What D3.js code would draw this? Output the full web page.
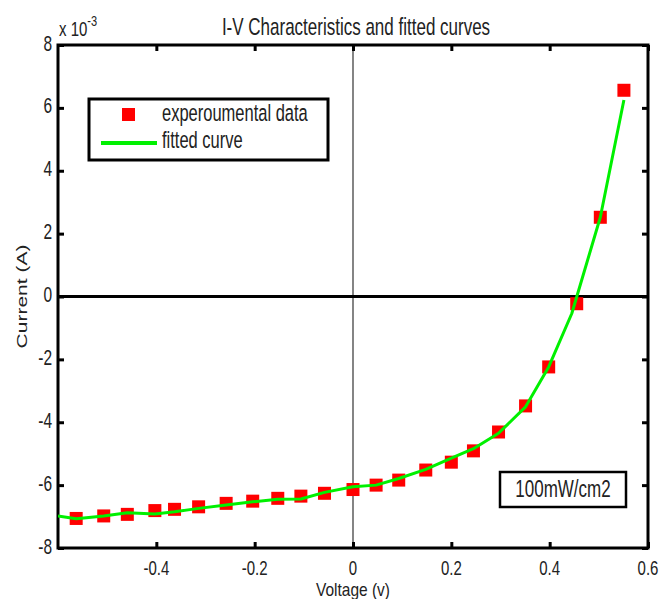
<!DOCTYPE html>
<html>
<head>
<meta charset="utf-8">
<script src="https://cdn.jsdelivr.net/npm/d3@7"></script>
<style>
  html, body { margin: 0; padding: 0; background: #fff; }
  svg text { font-family: "Liberation Sans", Arial, sans-serif; fill: #222; }
</style>
</head>
<body>
<div id="chart"></div>
<script>
// measured I-V points (current in units of 1e-3 A)
const voltage = [-0.563, -0.507, -0.459, -0.403, -0.363, -0.314, -0.258, -0.204, -0.153, -0.106,
  -0.058, 0.0, 0.047, 0.093, 0.148, 0.200, 0.245, 0.296, 0.351, 0.398, 0.455, 0.503, 0.551];
const current = [-7.06, -6.98, -6.93, -6.81, -6.77, -6.69, -6.58, -6.51, -6.42, -6.35,
  -6.26, -6.14, -6.00, -5.84, -5.52, -5.27, -4.91, -4.31, -3.48, -2.24, -0.23, 2.52, 6.56];

// fitted curve, sampled at the same voltages (plus left edge)
const fitV = [-0.6, -0.563, -0.507, -0.459, -0.403, -0.363, -0.314, -0.258, -0.204, -0.153, -0.106,
  -0.058, 0.0, 0.047, 0.093, 0.148, 0.200, 0.245, 0.296, 0.351, 0.398, 0.445, 0.503, 0.551];
const fitI = [-6.98, -7.07, -6.98, -6.88, -6.92, -6.85, -6.74, -6.63, -6.53, -6.45, -6.44,
  -6.23, -6.05, -6.00, -5.79, -5.50, -5.14, -4.84, -4.35, -3.51, -2.24, -0.54, 2.52, 6.25];

const xTicks = [-0.4, -0.2, 0, 0.2, 0.4, 0.6];
const yTicks = [-8, -6, -4, -2, 0, 2, 4, 6, 8];

const W = 659, H = 599;
const m = { top: 45, right: 11, bottom: 51, left: 58 };
const w = W - m.left - m.right, h = H - m.top - m.bottom;
const K = 1.4; // the source figure is stretched vertically, text too

const svg = d3.select("#chart").append("svg").attr("width", W).attr("height", H);
const g = svg.append("g").attr("transform", `translate(${m.left},${m.top})`);

const x = d3.scaleLinear().domain([-0.6, 0.6]).range([0, w]);
const y = d3.scaleLinear().domain([-8, 8]).range([h, 0]);

// horizontal text, stretched like the source
function label(parent, tx, ty, str, size, anchor, k) {
  return parent.append("text")
    .attr("transform", `translate(${tx},${ty}) scale(1,${k || K})`)
    .attr("text-anchor", anchor || "start").style("font-size", size + "px").text(str);
}

svg.append("clipPath").attr("id", "clip").append("rect").attr("width", w).attr("height", h);

// zero lines
g.append("line").attr("x1", x(0)).attr("x2", x(0)).attr("y1", 0).attr("y2", h)
  .attr("stroke", "#666").attr("stroke-width", 1.6);
g.append("line").attr("x1", 0).attr("x2", w).attr("y1", y(0)).attr("y2", y(0))
  .attr("stroke", "#000").attr("stroke-width", 3);

// axes (inward ticks, mirrored); labels added below
const axB = g.append("g").attr("transform", `translate(0,${h})`)
  .call(d3.axisBottom(x).tickValues(xTicks).tickSizeInner(-6).tickSizeOuter(0).tickFormat(""));
const axT = g.append("g")
  .call(d3.axisTop(x).tickValues(xTicks).tickSizeInner(-6).tickSizeOuter(0).tickFormat(""));
const axL = g.append("g")
  .call(d3.axisLeft(y).tickValues(yTicks).tickSizeInner(-6).tickSizeOuter(0).tickFormat(""));
const axR = g.append("g").attr("transform", `translate(${w},0)`)
  .call(d3.axisRight(y).tickValues(yTicks).tickSizeInner(-6).tickSizeOuter(0).tickFormat(""));
[axB, axT, axL, axR].forEach((a) => {
  a.select(".domain").remove();
  a.selectAll(".tick line").attr("stroke", "#000").attr("stroke-width", 3);
});

const fmtX = (d) => d === 0 ? "0" : d3.format(".1f")(d).replace("\u2212", "-");
xTicks.forEach((d) => label(g, x(d), h + 27, fmtX(d), 15, "middle"));
yTicks.forEach((d) => label(g, -6, y(d) + 5.5, String(d), 15.5, "end"));

// frame
g.append("rect").attr("width", w).attr("height", h).attr("fill", "none")
  .attr("stroke", "#000").attr("stroke-width", 3);

// data markers
const pts = voltage.map((v, i) => ({ v, c: current[i] }));
g.append("g").attr("clip-path", "url(#clip)").selectAll("rect.pt").data(pts).join("rect").attr("class", "pt")
  .attr("x", (d) => x(d.v) - 6.5).attr("y", (d) => y(d.c) - 6.5)
  .attr("width", 13).attr("height", 13).attr("fill", "#ff0000");

// fitted curve
const fit = fitV.map((v, i) => ({ v, c: fitI[i] }));
g.append("path").datum(fit).attr("clip-path", "url(#clip)").attr("fill", "none")
  .attr("stroke", "#00f000").attr("stroke-width", 3).attr("stroke-linejoin", "round")
  .attr("d", d3.line().x((d) => x(d.v)).y((d) => y(d.c)));

// title, exponent, axis labels
label(svg, 356, 35, "I-V Characteristics and fitted curves", 17, "middle");
const ex = label(svg, 59, 36, "", 15);
ex.append("tspan").text("x 10");
ex.append("tspan").attr("dy", -7).style("font-size", "11px").text("-3");
label(svg, m.left + x(0), 596, "Voltage (v)", 15.5, "middle", 1.2);
svg.append("text").attr("transform", `translate(27,${m.top + y(0)}) rotate(-90) scale(${K},1)`)
  .attr("text-anchor", "middle").style("font-size", "15px").text("Current (A)");

// legend
const lg = svg.append("g").attr("transform", "translate(89,99)");
lg.append("rect").attr("width", 239).attr("height", 61).attr("fill", "#fff")
  .attr("stroke", "#000").attr("stroke-width", 3);
lg.append("rect").attr("x", 33).attr("y", 9).attr("width", 13).attr("height", 13).attr("fill", "#ff0000");
label(lg, 73, 22, "experoumental data", 16.5);
lg.append("line").attr("x1", 12).attr("x2", 68).attr("y1", 44).attr("y2", 44)
  .attr("stroke", "#00f000").attr("stroke-width", 4);
label(lg, 73, 49, "fitted curve", 16.5);

// irradiance note
const nt = svg.append("g").attr("transform", "translate(500,472)");
nt.append("rect").attr("width", 126).attr("height", 35).attr("fill", "#fff")
  .attr("stroke", "#000").attr("stroke-width", 2.5);
label(nt, 63, 25, "100mW/cm2", 17, "middle");
</script>
</body>
</html>
